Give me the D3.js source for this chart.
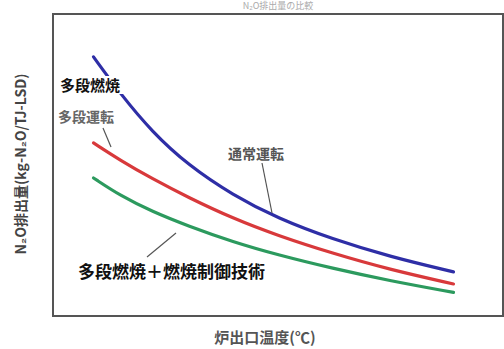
<!DOCTYPE html>
<html>
<head>
<meta charset="utf-8">
<script src="https://cdn.jsdelivr.net/npm/d3@7"></script>
<style>
  body { margin: 0; background: #fff; }
  text { font-family: "Noto Sans CJK JP", sans-serif; }
</style>
</head>
<body>
<div id="chart"></div>
<script>
// furnace outlet temperature (relative, no ticks shown)
const temps = [9, 15, 22, 30, 40, 50, 62, 75, 89];
// N2O emission (relative)
const normalOp = [85.8, 73.5, 61.0, 50.0, 40.0, 32.3, 25.5, 19.6, 14.6];
const stagedOp = [57.3, 51.5, 45.5, 39.3, 32.3, 26.6, 20.8, 15.3, 10.6];
const stagedCtrl = [45.7, 39.8, 34.6, 29.8, 24.5, 20.2, 15.8, 11.6, 7.8];

const width = 504, height = 349;
const frame = { left: 53, top: 14, right: 503, bottom: 316 };

const svg = d3.select("#chart").append("svg")
  .attr("width", width)
  .attr("height", height);

const x = d3.scaleLinear().domain([0, 100]).range([frame.left, frame.right]);
const y = d3.scaleLinear().domain([0, 100]).range([frame.bottom, frame.top]);

// faint title at very top
svg.append("text")
  .attr("x", 278).attr("y", 9)
  .attr("text-anchor", "middle")
  .attr("font-size", 9)
  .attr("fill", "#aaa")
  .text("N₂O排出量の比較");

// frame
svg.append("rect")
  .attr("x", frame.left).attr("y", frame.top)
  .attr("width", frame.right - frame.left)
  .attr("height", frame.bottom - frame.top)
  .attr("fill", "none")
  .attr("stroke", "#555")
  .attr("stroke-width", 2);

const line = d3.line()
  .x((d, i) => x(temps[i]))
  .y(d => y(d))
  .curve(d3.curveBasis);

const series = [
  { values: normalOp, color: "#2e2ea6" },
  { values: stagedOp, color: "#d8393b" },
  { values: stagedCtrl, color: "#2c9a5e" }
];

svg.selectAll("path.series")
  .data(series)
  .join("path")
  .attr("class", "series")
  .attr("d", d => line(d.values))
  .attr("fill", "none")
  .attr("stroke", d => d.color)
  .attr("stroke-width", 3.2)
  .attr("stroke-linecap", "round");

// arrows / leaders
function leader(x1, y1, x2, y2) {
  svg.append("line")
    .attr("x1", x1).attr("y1", y1).attr("x2", x2).attr("y2", y2)
    .attr("stroke", "#555").attr("stroke-width", 1.2);
}
leader(103, 128, 111, 147);
leader(262, 163, 272, 213);
leader(147, 257, 176, 233);

// labels
svg.append("rect").attr("x", 58).attr("y", 76).attr("width", 66).attr("height", 18).attr("fill", "#fff");
svg.append("text").attr("x", 60).attr("y", 91)
  .attr("font-size", 15).attr("font-weight", "bold").attr("fill", "#111")
  .text("多段燃焼");

svg.append("text").attr("x", 58).attr("y", 122)
  .attr("font-size", 14).attr("font-weight", "bold").attr("fill", "#666")
  .text("多段運転");

svg.append("text").attr("x", 228).attr("y", 159)
  .attr("font-size", 14).attr("font-weight", "bold").attr("fill", "#555")
  .text("通常運転");

svg.append("rect").attr("x", 76).attr("y", 261).attr("width", 198).attr("height", 20).attr("fill", "#fff");
svg.append("text").attr("x", 78).attr("y", 278)
  .attr("font-size", 17).attr("font-weight", "bold").attr("fill", "#111")
  .text("多段燃焼＋燃焼制御技術");

// axis titles
svg.append("text")
  .attr("x", 265).attr("y", 343)
  .attr("text-anchor", "middle")
  .attr("font-size", 15).attr("font-weight", "bold").attr("fill", "#555")
  .text("炉出口温度(℃)");

svg.append("text")
  .attr("transform", "translate(26,164) rotate(-90)")
  .attr("text-anchor", "middle")
  .attr("font-size", 14).attr("font-weight", "bold").attr("fill", "#444")
  .text("N₂O排出量(kg-N₂O/TJ-LSD)");
</script>
</body>
</html>
